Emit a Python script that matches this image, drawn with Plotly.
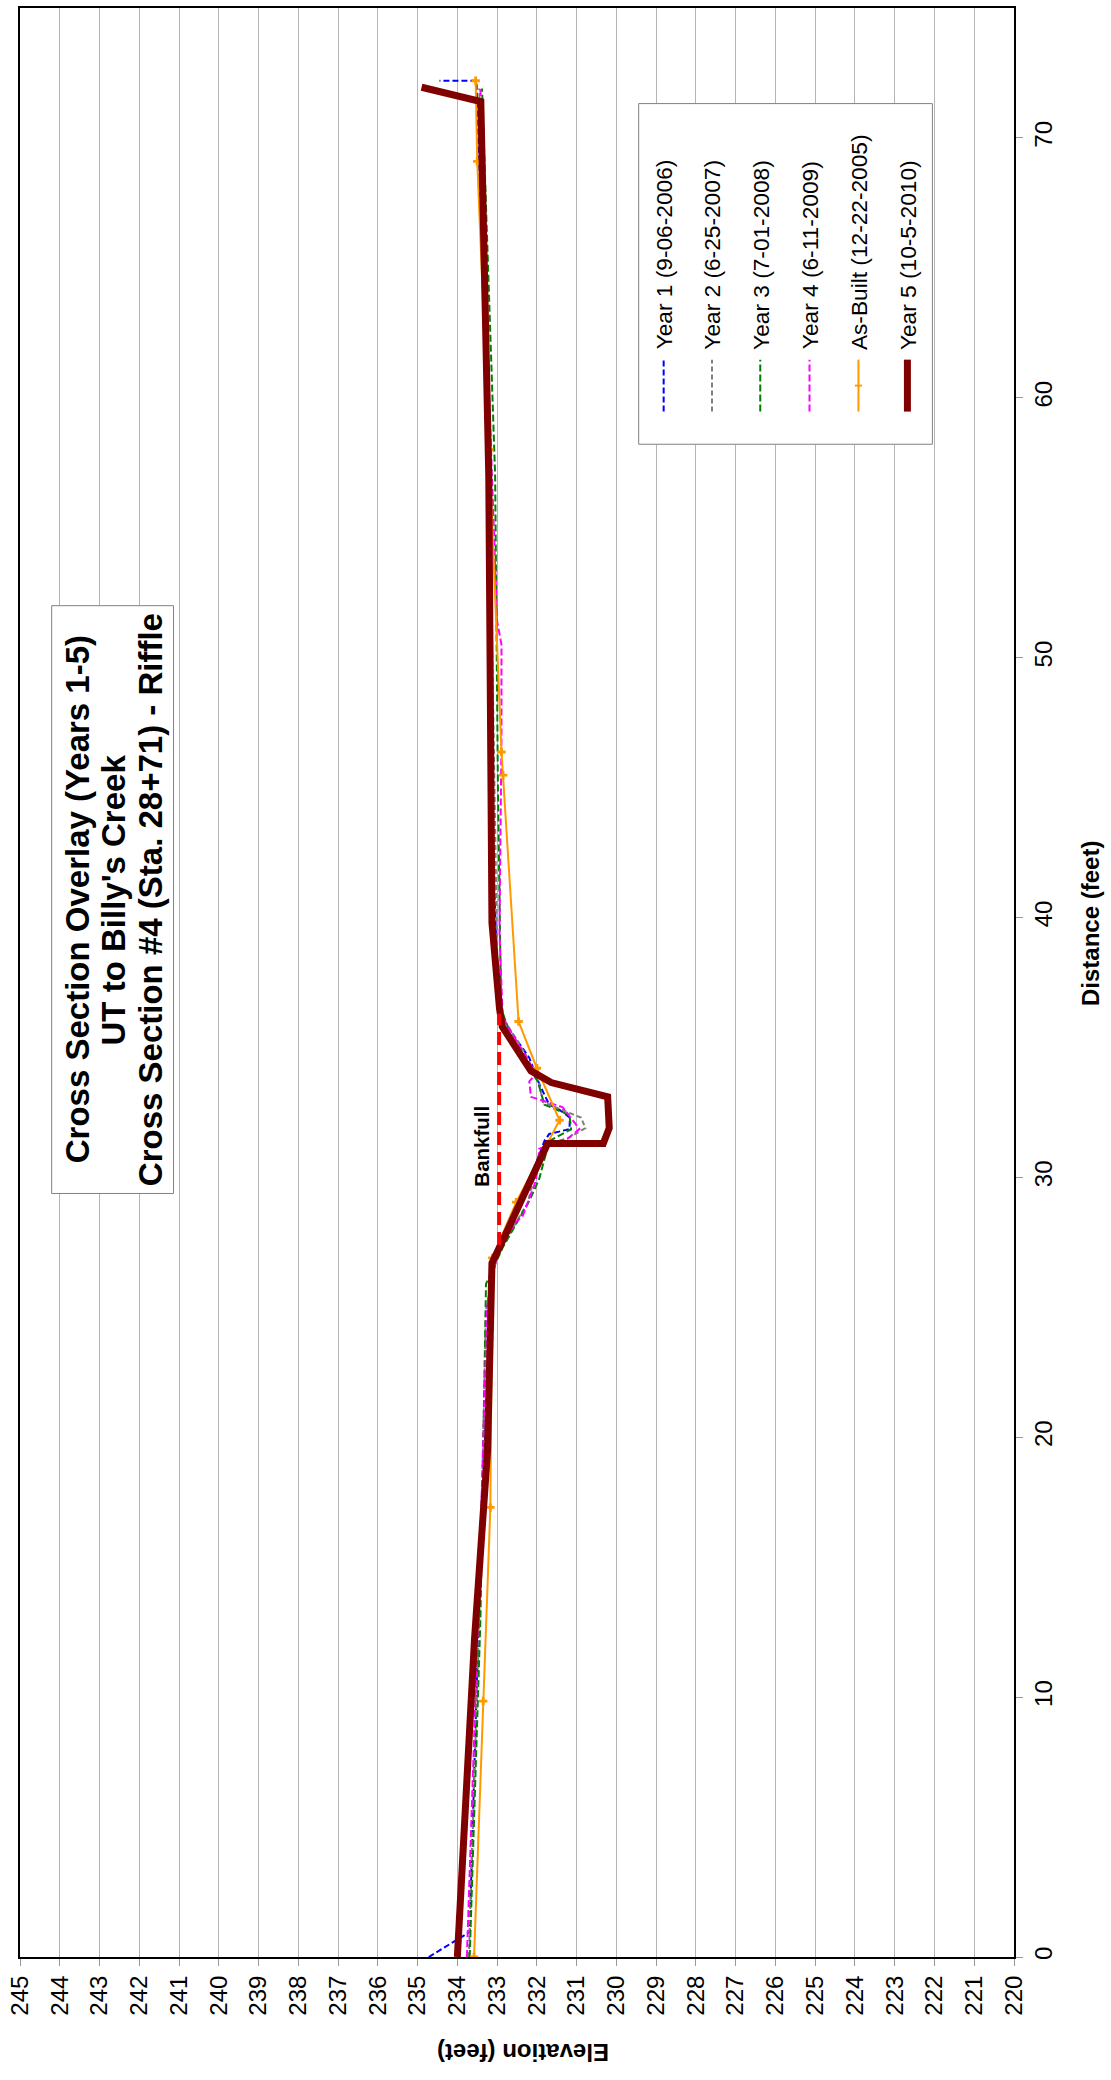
import plotly.graph_objects as go

# ---- survey data: distance across section (ft) and elevation (ft) ----
year1_dist = [0, 0.96, 13.3, 26.6, 27.8, 30.0, 31.4, 31.67, 31.86, 32.3, 32.6, 32.8,
              33.6, 34.6, 36.15, 37.05, 45.0, 60.0, 72.2, 72.2]
year1_elev = [234.72, 233.69, 233.46, 233.15, 232.8, 232.15, 231.81, 231.69, 231.18, 231.17,
              231.43, 231.69, 231.94, 232.19, 232.9, 232.98, 233.15, 233.27, 233.52, 234.45]

year2_dist = [0, 13.0, 24.9, 26.9, 28.7, 29.0, 30.4, 31.3, 31.5, 31.9, 32.3, 32.9,
              33.6, 34.7, 36.15, 36.9, 50.0, 71.9]
year2_elev = [233.71, 233.45, 233.28, 233.03, 232.36, 232.23, 232.02, 231.77, 231.22, 230.78,
              230.89, 231.85, 231.94, 232.27, 232.86, 232.98, 233.12, 233.45]

year3_dist = [0, 13.0, 25.9, 27.3, 29.1, 29.95, 31.4, 31.85, 32.4, 32.8, 33.7, 34.9,
              36.5, 45.0, 57.0, 71.9]
year3_elev = [233.69, 233.42, 233.28, 232.86, 232.19, 231.94, 231.69, 231.14, 231.18, 231.81,
              231.98, 232.52, 232.9, 232.98, 233.05, 233.38]

year4_dist = [0, 13.0, 25.0, 27.2, 28.3, 28.5, 29.9, 31.1, 31.5, 31.86, 32.7, 33.1,
              33.7, 33.98, 36.15, 39.4, 41.0, 46.9, 50.5, 51.4, 60.0, 71.9]
year4_elev = [233.76, 233.48, 233.25, 232.98, 232.52, 232.36, 232.02, 231.94, 231.22, 230.93,
              231.35, 232.15, 232.19, 232.02, 232.86, 232.94, 232.93, 232.89, 232.89, 233.0,
              233.2, 233.42]

asbuilt_dist = [0, 9.85, 17.3, 26.9, 29.05, 32.2, 34.2, 36.0, 45.48, 46.37, 58.0, 69.1, 72.2]
asbuilt_elev = [233.58, 233.35, 233.17, 233.12, 232.52, 231.43, 232.0, 232.46, 232.85, 232.89,
                233.2, 233.5, 233.54]

year5_dist = [0, 12.2, 19.5, 26.7, 27.7, 30.1, 31.3, 31.3, 31.9, 33.1, 33.65, 34.1,
              35.8, 36.5, 39.8, 57.0, 71.4, 71.95]
year5_elev = [234.0, 233.57, 233.24, 233.13, 232.82, 232.1, 231.73, 230.33, 230.18, 230.22,
              231.64, 232.15, 232.87, 232.94, 233.13, 233.21, 233.41, 234.9]

bankfull_elev = 232.95
bankfull_dist = [27.4, 36.3]

elev_ticks = list(range(220, 246))
dist_ticks = [0, 10, 20, 30, 40, 50, 60, 70]

title_lines = ["Cross Section Overlay (Years 1-5)",
               "UT to Billy's Creek",
               "Cross Section #4 (Sta. 28+71) - Riffle"]

FONT = "Liberation Sans, Arial, sans-serif"

series = [
    # name, dist, elev, color, width, dash, markers
    ("Year 1 (9-06-2006)", year1_dist, year1_elev, "#0000FF", 2, "6px,3px", False),
    ("Year 2 (6-25-2007)", year2_dist, year2_elev, "#808080", 2, "5px,3px", False),
    ("Year 3 (7-01-2008)", year3_dist, year3_elev, "#008000", 2, "7px,3px", False),
    ("Year 4 (6-11-2009)", year4_dist, year4_elev, "#FF00FF", 2, "7px,3px", False),
    ("As-Built (12-22-2005)", asbuilt_dist, asbuilt_elev, "#FF9900", 2, "solid", True),
    ("Year 5 (10-5-2010)", year5_dist, year5_elev, "#800000", 7, "solid", False),
]

W, H = 1111, 2080
PL, PR, PT, PB = 19, 1014, 6, 1957  # plot-area edges in pixels


def px_x(px):
    return (px - PL) / (PR - PL)


def px_y(py):
    return (PB - py) / (PB - PT)


fig = go.Figure()

for name, d, e, color, width, dash, markers in series:
    fig.add_trace(go.Scatter(
        x=e, y=d, name=name,
        mode="lines+markers" if markers else "lines",
        line=dict(color=color, width=width, dash=dash),
        marker=dict(symbol="cross", size=7, color=color) if markers else None,
        showlegend=False, hoverinfo="skip",
    ))

fig.add_trace(go.Scatter(
    x=[bankfull_elev, bankfull_elev], y=bankfull_dist, mode="lines",
    line=dict(color="#FF0000", width=4, dash="13px,7px"),
    showlegend=False, hoverinfo="skip",
))

shapes = []
annotations = []

# title box
shapes.append(dict(type="rect", xref="paper", yref="paper",
                   x0=px_x(50.7), x1=px_x(172.7), y0=px_y(1192.7), y1=px_y(604.3),
                   line=dict(color="#808080", width=1), fillcolor="white", layer="above"))
for cx, text in zip([76.7, 113.0, 149.7], title_lines):
    annotations.append(dict(xref="paper", yref="paper", x=px_x(cx), y=px_y(898.5),
                            text=f"<b>{text}</b>", textangle=-90, showarrow=False,
                            xanchor="center", yanchor="middle",
                            font=dict(family=FONT, size=33, color="black")))

# legend box with rotated entries
shapes.append(dict(type="rect", xref="paper", yref="paper",
                   x0=px_x(638.3), x1=px_x(932.3), y0=px_y(442.7), y1=px_y(101.7),
                   line=dict(color="#808080", width=1), fillcolor="white", layer="above"))
col_x = [663.3, 711.7, 760.0, 809.3, 858.3, 907.3]
for cx, (name, d, e, color, width, dash, markers) in zip(col_x, series):
    shapes.append(dict(type="line", xref="paper", yref="paper",
                       x0=px_x(cx), x1=px_x(cx), y0=px_y(410), y1=px_y(358),
                       line=dict(color=color, width=width, dash=dash), layer="above"))
    if markers:
        s = 3.5
        shapes.append(dict(type="line", xref="paper", yref="paper",
                           x0=px_x(cx - s), x1=px_x(cx + s), y0=px_y(384), y1=px_y(384),
                           line=dict(color=color, width=2), layer="above"))
    annotations.append(dict(xref="paper", yref="paper", x=px_x(cx), y=px_y(350),
                            text=name, textangle=-90, showarrow=False,
                            xanchor="center", yanchor="bottom",
                            font=dict(family=FONT, size=22.7, color="black")))

# bankfull label
annotations.append(dict(xref="paper", yref="paper", x=px_x(481.3), y=px_y(1145),
                        text="<b>Bankfull</b>", textangle=-90, showarrow=False,
                        xanchor="center", yanchor="middle",
                        font=dict(family=FONT, size=20.5, color="black")))

# axis titles
annotations.append(dict(xref="paper", yref="paper", x=px_x(522), y=px_y(2052),
                        text="<b>Elevation (feet)</b>", textangle=180, showarrow=False,
                        xanchor="center", yanchor="middle",
                        font=dict(family=FONT, size=24, color="black")))
annotations.append(dict(xref="paper", yref="paper", x=px_x(1090), y=px_y(922),
                        text="<b>Distance (feet)</b>", textangle=-90, showarrow=False,
                        xanchor="center", yanchor="middle",
                        font=dict(family=FONT, size=24, color="black")))

fig.update_layout(
    width=W, height=H,
    margin=dict(l=PL, r=W - PR, t=PT, b=H - PB, pad=0),
    paper_bgcolor="white", plot_bgcolor="white",
    showlegend=False,
    font=dict(family=FONT, size=24, color="black"),
    shapes=shapes, annotations=annotations,
    xaxis=dict(range=[245, 220], tickmode="array", tickvals=elev_ticks,
               ticktext=[str(v) for v in elev_ticks], tickangle=-90,
               ticks="outside", ticklen=7, tickcolor="#999999", tickwidth=1,
               showgrid=True, gridcolor="#b5b5b5", gridwidth=1,
               showline=True, linecolor="black", linewidth=2, mirror=True,
               zeroline=False, tickfont=dict(family=FONT, size=24, color="black")),
    yaxis=dict(range=[0, 75], side="right", tickmode="array", tickvals=dist_ticks,
               ticktext=[str(v) for v in dist_ticks], tickangle=-90,
               ticks="outside", ticklen=7, tickcolor="#999999", tickwidth=1,
               showgrid=False, showline=True, linecolor="black", linewidth=2,
               mirror=True, zeroline=False,
               tickfont=dict(family=FONT, size=24, color="black")),
)

fig.write_html("out.html")
